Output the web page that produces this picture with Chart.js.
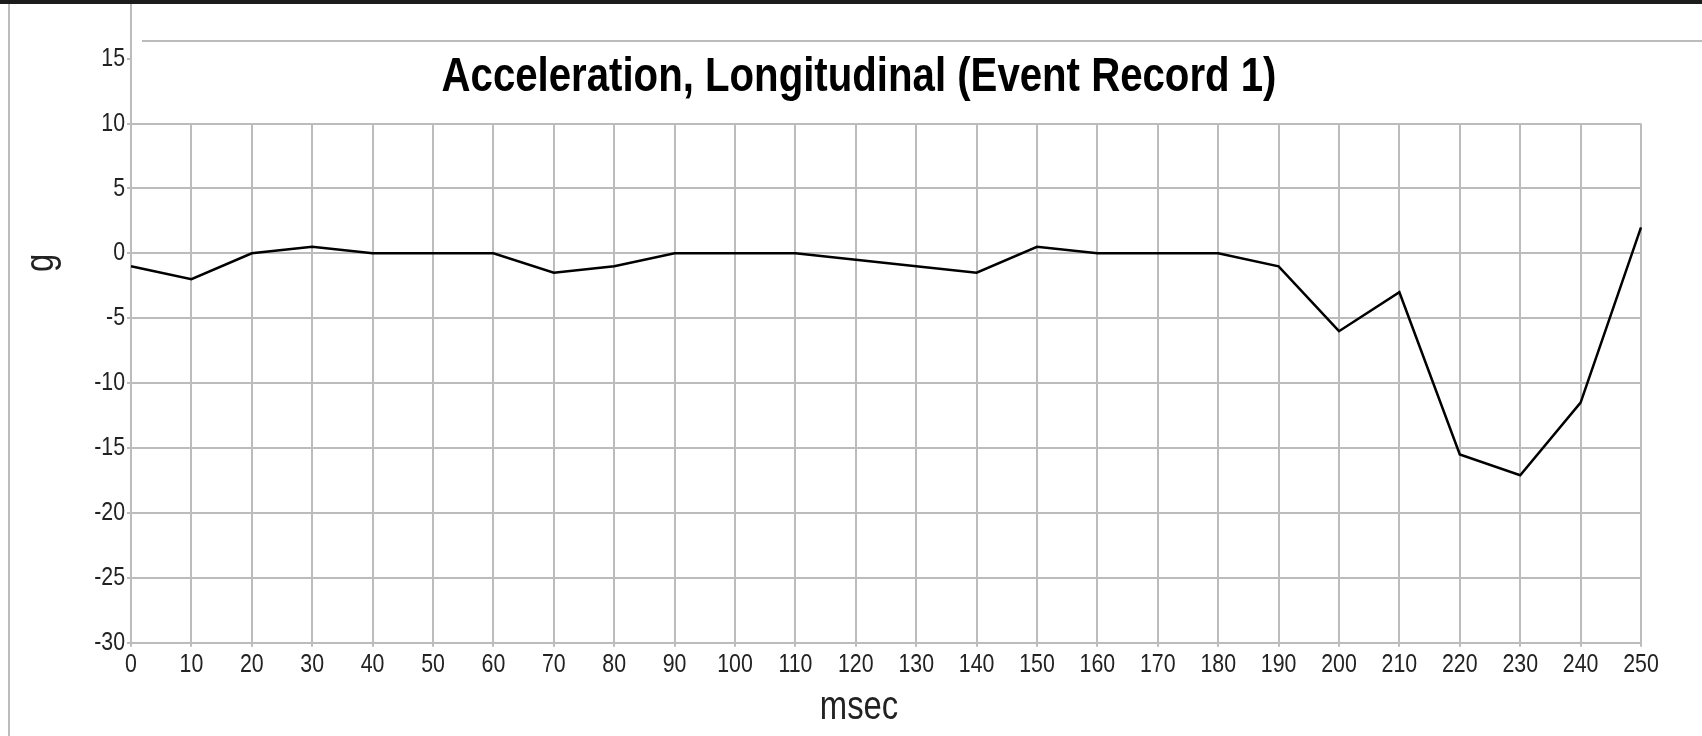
<!DOCTYPE html>
<html>
<head>
<meta charset="utf-8">
<script src="https://cdn.jsdelivr.net/npm/chart.js@4.4.1/dist/chart.umd.min.js"></script>
<style>
  html, body { margin: 0; padding: 0; background: #ffffff; overflow: hidden; }
  #wrap { position: relative; width: 1702px; height: 736px; }
  canvas { display: block; }
</style>
</head>
<body>
<div id="wrap"><canvas id="chart" width="1702" height="736"></canvas></div>
<script>
// ---- data ----
const msec = [0, 10, 20, 30, 40, 50, 60, 70, 80, 90, 100, 110, 120, 130, 140, 150, 160, 170, 180, 190, 200, 210, 220, 230, 240, 250];
const accelG = [-1, -2, 0, 0.5, 0, 0, 0, -1.5, -1, 0, 0, 0, -0.5, -1, -1.5, 0.5, 0, 0, 0, -1, -6, -3, -15.5, -17.1, -11.5, 2];
const yExtraTicks = [15];
const titleText = 'Acceleration, Longitudinal (Event Record 1)';
const xAxisTitle = 'msec';
const yAxisTitle = 'g';

const FONT = "'Liberation Sans', Arial, sans-serif";
const GRID = '#bcbcbc';
const TEXT = '#222222';
const NARROW = 0.82; // emulate the narrow face used in the reference

const canvas = document.getElementById('chart');
const ctx2d = canvas.getContext('2d');
const nativeFillText = ctx2d.fillText;
ctx2d.fillText = function (text, x, y, maxWidth) {
  const w = this.measureText(text).width * NARROW;
  const mw = (typeof maxWidth === 'number' && isFinite(maxWidth)) ? Math.min(maxWidth, w) : w;
  return nativeFillText.call(this, text, x, y, mw);
};

// frame decorations of the screenshot panel
const framePlugin = {
  id: 'frame',
  beforeDraw(chart) {
    const { ctx, width, height, chartArea } = chart;
    ctx.save();
    ctx.fillStyle = '#ffffff';
    ctx.fillRect(0, 0, width, height);
    ctx.fillStyle = '#1c1c1c';
    ctx.fillRect(0, 0, width, 4);
    ctx.strokeStyle = GRID;
    ctx.lineWidth = 2;
    ctx.beginPath();
    ctx.moveTo(9, 4); ctx.lineTo(9, height);
    ctx.moveTo(142, 41); ctx.lineTo(width, 41);
    ctx.moveTo(chartArea.left, 4); ctx.lineTo(chartArea.left, chartArea.top);
    ctx.stroke();
    ctx.restore();
  },
  afterDraw(chart) {
    const { ctx } = chart;
    ctx.save();
    ctx.translate(53, 263);
    ctx.rotate(-Math.PI / 2);
    ctx.fillStyle = TEXT;
    ctx.font = '40px ' + FONT;
    ctx.textAlign = 'center';
    ctx.textBaseline = 'alphabetic';
    ctx.fillText(yAxisTitle, 0, 0);
    ctx.restore();
  }
};

new Chart(canvas, {
  type: 'line',
  data: {
    labels: msec,
    datasets: [{
      label: titleText,
      data: accelG,
      borderColor: '#000000',
      borderWidth: 2.5,
      pointRadius: 0,
      tension: 0,
      fill: false
    }]
  },
  options: {
    responsive: false,
    animation: false,
    events: [],
    layout: { padding: { left: 77, right: 61, top: 0, bottom: 0 } },
    plugins: {
      legend: { display: false },
      tooltip: { enabled: false },
      title: {
        display: true,
        text: titleText,
        color: '#000000',
        font: { family: FONT, size: 49, weight: 'bold', lineHeight: 1.2 },
        padding: { top: 47.6, bottom: 17.1 }
      },
      subtitle: {
        display: true,
        position: 'bottom',
        text: xAxisTitle,
        color: TEXT,
        font: { family: FONT, size: 40, weight: 'normal', lineHeight: 1.2 },
        padding: { top: 5.1, bottom: 4.2 }
      }
    },
    scales: {
      x: {
        type: 'category',
        offset: false,
        grid: { color: GRID, lineWidth: 2, tickLength: 4, tickColor: GRID, drawTicks: true },
        border: { color: GRID, width: 2 },
        ticks: { color: TEXT, font: { family: FONT, size: 26 }, padding: 3, maxRotation: 0, autoSkip: false },
        afterFit: s => { s.height = 36; }
      },
      y: {
        min: -30,
        max: 10,
        grid: {
          color: c => (c.tick && c.tick.value > 10) ? 'rgba(0,0,0,0)' : GRID,
          lineWidth: 2, tickLength: 4, tickColor: GRID
        },
        border: { color: GRID, width: 2 },
        ticks: { stepSize: 5, color: TEXT, font: { family: FONT, size: 26 }, padding: 2 },
        afterBuildTicks: s => { yExtraTicks.forEach(v => s.ticks.push({ value: v })); },
        afterFit: s => { s.width = 54; }
      }
    }
  },
  plugins: [framePlugin]
});
</script>
</body>
</html>
